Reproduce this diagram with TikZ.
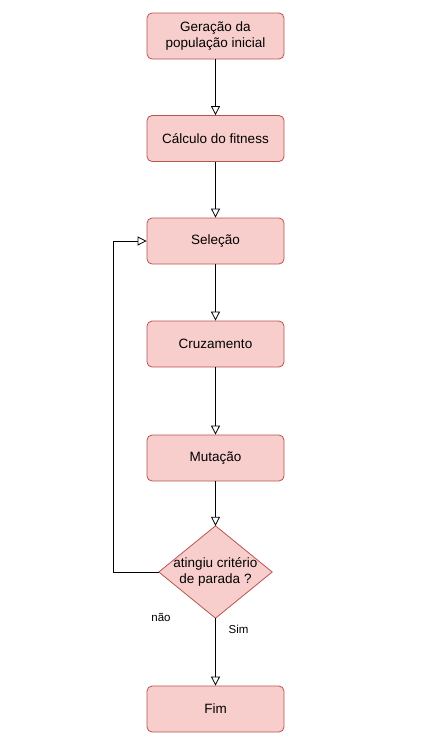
\documentclass[tikz,border=0pt]{standalone}
\usepackage{fontspec}
\setmainfont{Liberation Sans}
\usetikzlibrary{arrows.meta}
\definecolor{boxfill}{HTML}{F8CECC}
\definecolor{boxline}{HTML}{B85450}
\begin{document}
\begin{tikzpicture}[x=1pt,y=-1pt,
  stepbox/.style={draw=boxline,fill=boxfill,rounded corners=5pt,minimum width=137pt,minimum height=46pt,inner sep=0pt,align=center,font=\fontsize{13.5}{15.5}\selectfont,line width=0.8pt},
  decframe/.style={minimum width=113pt,minimum height=92pt,inner sep=0pt},
  dectext/.style={align=center,inner sep=0pt,font=\fontsize{13.5}{15.5}\selectfont},
  conn/.style={draw=black,line width=0.8pt,-{Triangle[open,length=9pt,width=9pt]}},
  lbl/.style={font=\fontsize{11.5}{13}\selectfont}]
\useasboundingbox (0,0) rectangle (422,747);
\node[stepbox] (ger) at (215.5,36) {Geração da\\população inicial};
\node[stepbox] (calc) at (215.5,138.5) {Cálculo do fitness};
\node[stepbox] (sel) at (215.5,241) {Seleção};
\node[stepbox] (cruz) at (215.5,344) {Cruzamento};
\node[stepbox] (mut) at (215.5,458) {Mutação};
\node[decframe] (dec) at (215.5,572) {};
\filldraw[draw=boxline,fill=boxfill,line width=0.8pt] (dec.north) -- (dec.east) -- (dec.south) -- (dec.west) -- cycle;
\node[dectext] (dect) at (dec) {atingiu critério\\de parada ?};
\node[stepbox] (fim) at (215.5,709) {Fim};
\draw[conn] (ger) -- (calc);
\draw[conn] (calc) -- (sel);
\draw[conn] (sel) -- (cruz);
\draw[conn] (cruz) -- (mut);
\draw[conn] (mut) -- (dec.north);
\draw[conn] (dec.south) -- (fim);
\coordinate (lb) at (113,572);
\coordinate (lt) at (113,241);
\draw[conn] (dec.west) -- (lb) -- (lt) -- (sel.west);
\node[lbl] (nao) at (161,617) {não};
\node[lbl] (sim) at (238.5,629) {Sim};
\end{tikzpicture}
\end{document}
